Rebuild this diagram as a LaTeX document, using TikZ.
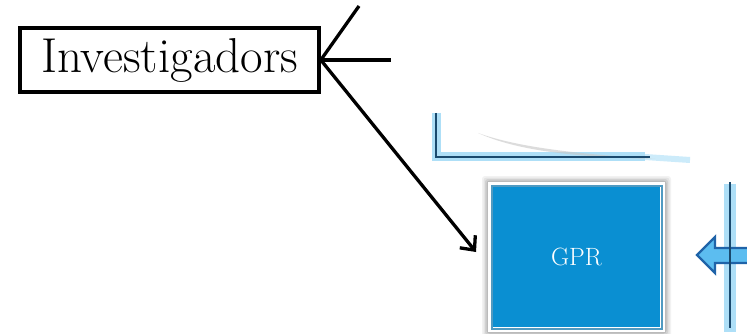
\documentclass[tikz,border=0pt]{standalone}
\usetikzlibrary{arrows.meta}
\definecolor{gprblue}{HTML}{0A8FD2}
\definecolor{gprdark}{HTML}{0670A8}
\definecolor{glowblue}{HTML}{9AD8F6}
\definecolor{darkline}{HTML}{1A4A6E}
\definecolor{arrowfill}{HTML}{5CBDF0}
\definecolor{arrowedge}{HTML}{1F63A8}
\begin{document}
\begin{tikzpicture}[x=1pt,y=-1pt]
\useasboundingbox[fill=white] (0,0) rectangle (747,334);
\tikzset{
  labelbox/.style={draw=black, line width=3.6pt, fill=white, minimum width=299pt,
    minimum height=64pt, inner sep=0pt, font=\fontsize{49}{55}\selectfont},
  conn/.style={line width=3.3pt, black},
  glowline/.style={glowblue, line width=9pt, opacity=0.8},
  thinline/.style={darkline, line width=1.8pt},
  gprbox/.style={draw=white, line width=5pt, fill=gprblue, minimum width=172pt,
    minimum height=145pt, inner sep=0pt, text=white, font=\fontsize{25}{30}\selectfont},
  blockarrow/.style={fill=arrowfill, draw=arrowedge, line width=2.4pt, line join=miter},
}
% bracket (top)
\draw[glowline] (436,113) -- (436,157) -- (645,157);
\draw[glowblue, line width=6pt, opacity=0.5] (645,157) -- (690,160);
\fill[gray!45, opacity=0.6] (478,133) .. controls (520,148) and (580,154) .. (655,159)
   .. controls (580,157) and (520,152) .. (478,133) -- cycle;
\draw[thinline] (436,113) -- (436,157) -- (650,157);
% right element
\draw[glowline, line width=12pt] (730,184) -- (730,332);
\draw[blockarrow] (697,255) -- (715,237) -- (715,248) -- (749,248) -- (749,263)
   -- (715,263) -- (715,273) -- cycle;
\draw[thinline] (730,182) -- (730,328);
% soft shadow behind GPR box
\foreach \s/\o in {6/0.05,4.5/0.06,3/0.08,1.5/0.1}{
  \fill[black, opacity=\o, rounded corners=3pt] (488-\s,182-\s) rectangle (665+\s,332+\s);
}
% nodes
\node[labelbox] (inv) at (169.5,60) {Investigadors};
\node[gprbox] (gpr) at (576.5,257) {GPR};
\draw[gprdark, line width=2pt, opacity=0.7]
  ([xshift=3.5pt,yshift=3.5pt]gpr.south west) rectangle ([xshift=-3.5pt,yshift=-3.5pt]gpr.north east);
% connectors
\coordinate (up) at (359,6);
\coordinate (right) at (391,60);
\coordinate (tip) at (476,252);
\draw[conn] (inv.east) -- (up);
\draw[conn] (inv.east) -- (right);
\draw[conn, -{Straight Barb[length=11pt,width=20pt]}] (inv.east) -- (tip);
\end{tikzpicture}
\end{document}
